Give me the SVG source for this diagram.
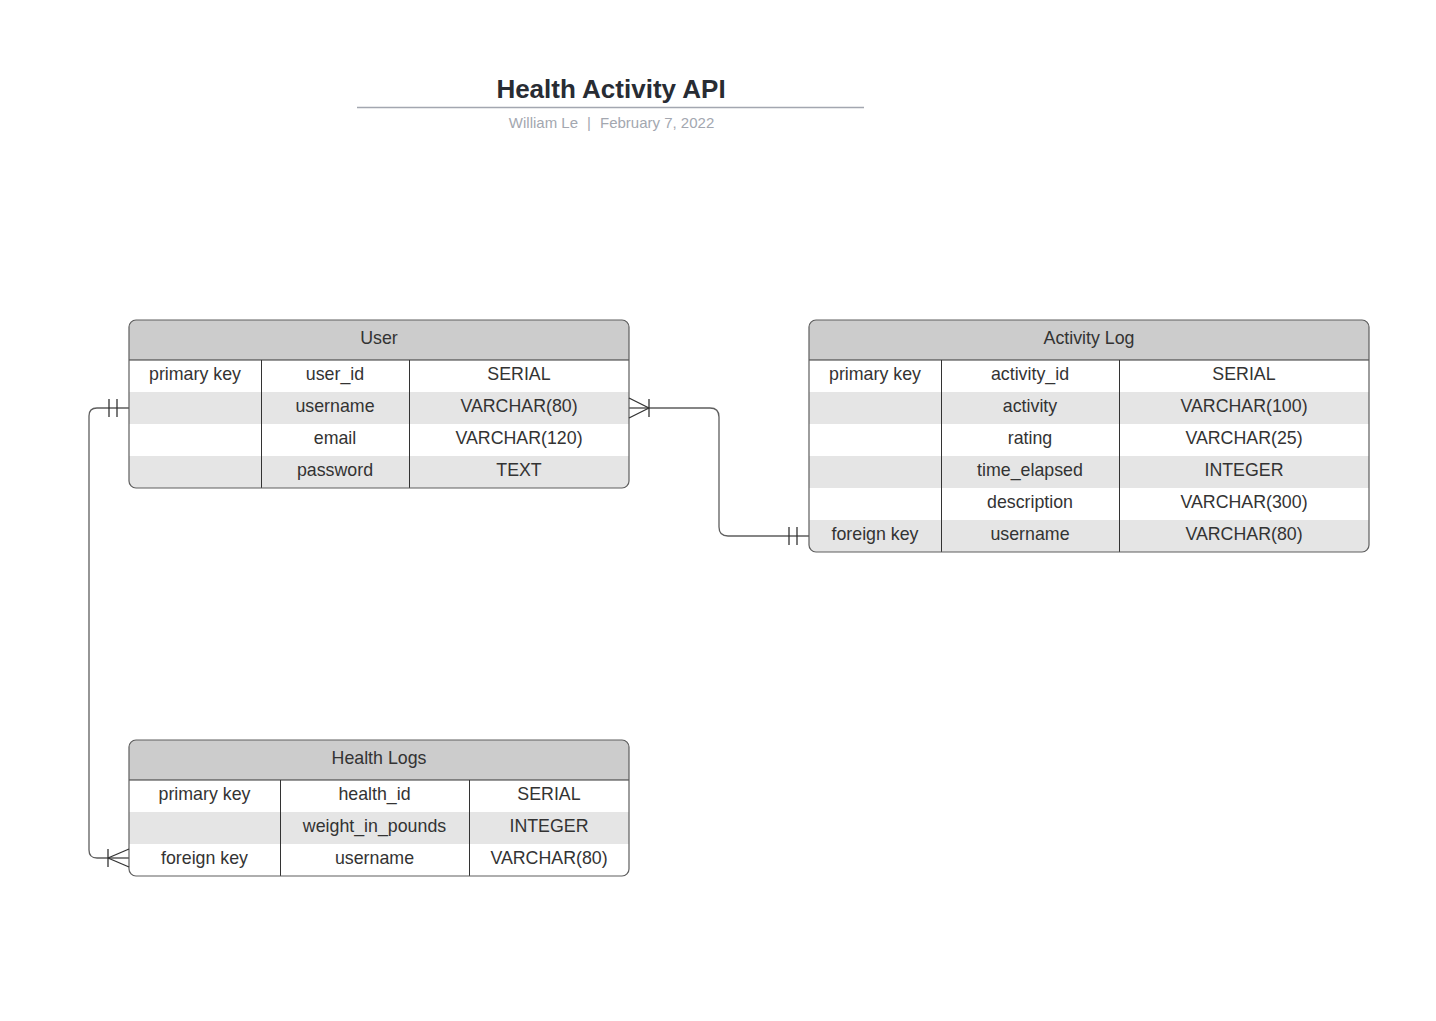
<svg xmlns="http://www.w3.org/2000/svg" width="1436" height="1021" viewBox="0 0 1436 1021">
<style>
.t{font-family:"Liberation Sans",Arial,sans-serif;font-size:17.8px;fill:#333333;text-anchor:middle}
.hdr{fill:#cccccc}
.sh{fill:#e5e5e5}
.outline{fill:none;stroke:#5e5e5e;stroke-width:1.2}
.div{stroke:#333333;stroke-width:1}
.conn{fill:none;stroke:#5e5e5e;stroke-width:1.3}
.mk{fill:none;stroke:#333333;stroke-width:1.3}
</style>
<defs>
<clipPath id="cUser"><rect x="129" y="320" width="500" height="168" rx="7"/></clipPath>
<clipPath id="cAct"><rect x="809" y="320" width="560" height="232" rx="7"/></clipPath>
<clipPath id="cHealth"><rect x="129" y="740" width="500" height="136" rx="7"/></clipPath>
</defs>
<rect width="1436" height="1021" fill="#ffffff"/>

<g id="title">
<text x="611" y="98" style="font-family:'Liberation Sans',Arial,sans-serif;font-size:26px;font-weight:bold;fill:#282c33" text-anchor="middle">Health Activity API</text>
<line x1="357" y1="107.5" x2="864" y2="107.5" stroke="#a3a7b0" stroke-width="1.5"/>
<g style="font-family:'Liberation Sans',Arial,sans-serif;font-size:15px;fill:#a3a7b0">
<text x="578" y="128" text-anchor="end">William Le</text>
<text x="589" y="128" text-anchor="middle">|</text>
<text x="600" y="128">February 7, 2022</text>
</g>
</g>

<g id="user">
<g clip-path="url(#cUser)">
<rect x="129" y="320" width="500" height="168" fill="#ffffff"/>
<rect class="hdr" x="129" y="320" width="500" height="40"/>
<rect class="sh" x="129" y="392" width="500" height="32"/>
<rect class="sh" x="129" y="456" width="500" height="32"/>
</g>
<line class="div" x1="129" y1="360" x2="629" y2="360"/>
<line class="div" x1="261.5" y1="360" x2="261.5" y2="488"/>
<line class="div" x1="409.5" y1="360" x2="409.5" y2="488"/>
<rect class="outline" x="129" y="320" width="500" height="168" rx="7"/>
<text class="t" x="379" y="344">User</text>
<text class="t" x="195" y="380">primary key</text>
<text class="t" x="335" y="380">user_id</text>
<text class="t" x="519" y="380">SERIAL</text>
<text class="t" x="335" y="412">username</text>
<text class="t" x="519" y="412">VARCHAR(80)</text>
<text class="t" x="335" y="444">email</text>
<text class="t" x="519" y="444">VARCHAR(120)</text>
<text class="t" x="335" y="476">password</text>
<text class="t" x="519" y="476">TEXT</text>
</g>

<g id="activity-log">
<g clip-path="url(#cAct)">
<rect x="809" y="320" width="560" height="232" fill="#ffffff"/>
<rect class="hdr" x="809" y="320" width="560" height="40"/>
<rect class="sh" x="809" y="392" width="560" height="32"/>
<rect class="sh" x="809" y="456" width="560" height="32"/>
<rect class="sh" x="809" y="520" width="560" height="32"/>
</g>
<line class="div" x1="809" y1="360" x2="1369" y2="360"/>
<line class="div" x1="941.5" y1="360" x2="941.5" y2="552"/>
<line class="div" x1="1119.5" y1="360" x2="1119.5" y2="552"/>
<rect class="outline" x="809" y="320" width="560" height="232" rx="7"/>
<text class="t" x="1089" y="344">Activity Log</text>
<text class="t" x="875" y="380">primary key</text>
<text class="t" x="1030" y="380">activity_id</text>
<text class="t" x="1244" y="380">SERIAL</text>
<text class="t" x="1030" y="412">activity</text>
<text class="t" x="1244" y="412">VARCHAR(100)</text>
<text class="t" x="1030" y="444">rating</text>
<text class="t" x="1244" y="444">VARCHAR(25)</text>
<text class="t" x="1030" y="476">time_elapsed</text>
<text class="t" x="1244" y="476">INTEGER</text>
<text class="t" x="1030" y="508">description</text>
<text class="t" x="1244" y="508">VARCHAR(300)</text>
<text class="t" x="875" y="540">foreign key</text>
<text class="t" x="1030" y="540">username</text>
<text class="t" x="1244" y="540">VARCHAR(80)</text>
</g>

<g id="health-logs">
<g clip-path="url(#cHealth)">
<rect x="129" y="740" width="500" height="136" fill="#ffffff"/>
<rect class="hdr" x="129" y="740" width="500" height="40"/>
<rect class="sh" x="129" y="812" width="500" height="32"/>
</g>
<line class="div" x1="129" y1="780" x2="629" y2="780"/>
<line class="div" x1="280.5" y1="780" x2="280.5" y2="876"/>
<line class="div" x1="469.5" y1="780" x2="469.5" y2="876"/>
<rect class="outline" x="129" y="740" width="500" height="136" rx="7"/>
<text class="t" x="379" y="764">Health Logs</text>
<text class="t" x="204.5" y="800">primary key</text>
<text class="t" x="374.5" y="800">health_id</text>
<text class="t" x="549" y="800">SERIAL</text>
<text class="t" x="374.5" y="832">weight_in_pounds</text>
<text class="t" x="549" y="832">INTEGER</text>
<text class="t" x="204.5" y="864">foreign key</text>
<text class="t" x="374.5" y="864">username</text>
<text class="t" x="549" y="864">VARCHAR(80)</text>
</g>

<g id="connectors">
<path class="conn" d="M129,408 H97 Q89,408 89,416 V850 Q89,858 97,858 H129"/>
<line class="mk" x1="109" y1="399" x2="109" y2="417"/>
<line class="mk" x1="117" y1="399" x2="117" y2="417"/>
<line class="mk" x1="108" y1="849" x2="108" y2="867"/>
<line class="mk" x1="108" y1="858" x2="129" y2="849"/>
<line class="mk" x1="108" y1="858" x2="129" y2="867"/>

<path class="conn" d="M629,408 H710 Q719,408 719,417 V527 Q719,536 728,536 H809"/>
<line class="mk" x1="649" y1="399" x2="649" y2="417"/>
<line class="mk" x1="649" y1="408" x2="629" y2="398"/>
<line class="mk" x1="649" y1="408" x2="629" y2="418"/>
<line class="mk" x1="789" y1="527" x2="789" y2="545"/>
<line class="mk" x1="797" y1="527" x2="797" y2="545"/>
</g>
</svg>
